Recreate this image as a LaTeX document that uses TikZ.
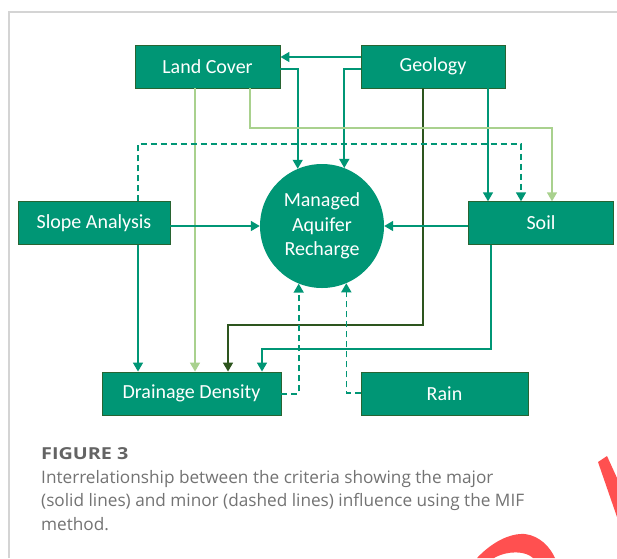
\documentclass[tikz,border=0pt]{standalone}
\usepackage{fontspec}
\setmainfont{Carlito}
\newfontfamily\capfont{Open Sans}
\usetikzlibrary{arrows.meta}
\definecolor{boxfill}{RGB}{0,150,117}
\definecolor{boxedge}{RGB}{40,100,50}
\definecolor{tealline}{RGB}{0,150,117}
\definecolor{lgreen}{RGB}{169,209,142}
\definecolor{dgreen}{RGB}{45,85,30}
\definecolor{capgray}{RGB}{115,115,115}
\definecolor{figgray}{RGB}{100,100,100}
\definecolor{redmark}{RGB}{255,80,80}
\definecolor{framegray}{RGB}{212,212,212}
\begin{document}
\begin{tikzpicture}[x=1pt,y=-1pt,
  box/.style={draw=boxedge,line width=0.9pt,fill=boxfill,text=white,inner sep=0pt,font=\fontsize{20}{24}\selectfont},
  tip/.style={-{Triangle[length=9pt,width=10pt]}},
  major/.style={draw=tealline,line width=1.6pt,tip},
  light/.style={draw=lgreen,line width=1.6pt,tip},
  darkline/.style={draw=dgreen,line width=1.6pt,tip},
  minor/.style={draw=tealline,line width=1.6pt,dash pattern=on 6pt off 4pt,tip},
  captxt/.style={anchor=base west,inner sep=0pt,text=capgray,font=\capfont\fontsize{17.2}{20}\selectfont}
]
\fill[white] (0,0) rectangle (617,558);
\useasboundingbox (0,0) rectangle (617,558);
\draw[framegray,line width=1.2pt] (9,558) -- (9,12) -- (617,12);

% helper coordinates
\coordinate (y57) at (0,57);
\coordinate (y69) at (0,69);
\coordinate (y128) at (0,128);
\coordinate (y144) at (0,144);
\coordinate (y325) at (0,325);
\coordinate (y349) at (0,349);
\coordinate (y394) at (0,394);
\coordinate (y393) at (0,393);
\coordinate (x138) at (138,0);
\coordinate (x195) at (195,0);
\coordinate (x228) at (228,0);
\coordinate (x250) at (250,0);
\coordinate (x262) at (262,0);
\coordinate (x423) at (423,0);
\coordinate (x488) at (488,0);
\coordinate (x491) at (491,0);
\coordinate (x521) at (521,0);
\coordinate (x552) at (552,0);

% nodes
\node[box,minimum width=145pt,minimum height=43pt] (LC) at (207.5,66.5) {Land Cover};
\node[box,minimum width=144pt,minimum height=43pt] (GEO) at (433,66.5) {Geology};
\node[box,minimum width=152pt,minimum height=42.5pt] (SA) at (94,223) {Slope Analysis};
\node[box,minimum width=145pt,minimum height=42.5pt] (SOIL) at (541,223) {Soil};
\node[box,minimum width=179pt,minimum height=43pt] (DD) at (191.5,393.5) {Drainage Density};
\node[box,minimum width=167pt,minimum height=43pt] (RAIN) at (444.5,393.5) {Rain};
\node[circle,fill=boxfill,minimum size=124pt,inner sep=0pt,text=white,align=center,font=\fontsize{20}{24.5}\selectfont] (MAR) at (322,226) {Managed\\Aquifer\\Recharge};

% connectors
\draw[major] (GEO.west |- y57) -- (LC.east |- y57);
\draw[major] (LC.east |- y69) -| (MAR.113);
\draw[major] (GEO.west |- y69) -| (MAR.69);
\draw[darkline] (GEO.south -| x423) -- (x423 |- y325) -- (x228 |- y325) -- (DD.north -| x228);
\draw[major] (GEO.south -| x488) -- (SOIL.north -| x488);
\draw[light] (LC.south -| x195) -- (DD.north -| x195);
\draw[light] (LC.south -| x250) -- (x250 |- y128) -- (x552 |- y128) -- (SOIL.north -| x552);
\draw[minor] (SA.north -| x138) -- (x138 |- y144) -- (x521 |- y144) -- (SOIL.north -| x521);
\draw[major] (SA.east |- MAR.center) -- (MAR.west);
\draw[major] (SOIL.west |- MAR.center) -- (MAR.east);
\draw[major] (SA.south -| x138) -- (DD.north -| x138);
\draw[major] (SOIL.south -| x491) -- (x491 |- y349) -- (x262 |- y349) -- (DD.north -| x262);
\draw[minor] (DD.east |- y394) -| (MAR.248);
\draw[minor] (RAIN.west |- y393) -| (MAR.293);

% caption
\node[captxt,text=figgray,font=\capfont\bfseries\fontsize{16.5}{20}\selectfont] (FIG) at (41,459) {\scalebox{1.2}[1]{FIGURE 3}};
\node[captxt] (CAP1) at (41,483) {Interrelationship between the criteria showing the major};
\node[captxt] (CAP2) at (41,506.5) {(solid lines) and minor (dashed lines) influence using the MIF};
\node[captxt] (CAP3) at (41,530) {method.};

% red mark
\fill[redmark] (598,462) -- (607,456) -- (617,478) -- (617,517) -- cycle;
\fill[redmark] (477,558) .. controls (492,542) and (510,533) .. (525,534)
  .. controls (540,536) and (550,547) .. (555,558) -- (533,558)
  .. controls (526,551) and (508,550) .. (494,558) -- cycle;
\end{tikzpicture}
\end{document}
